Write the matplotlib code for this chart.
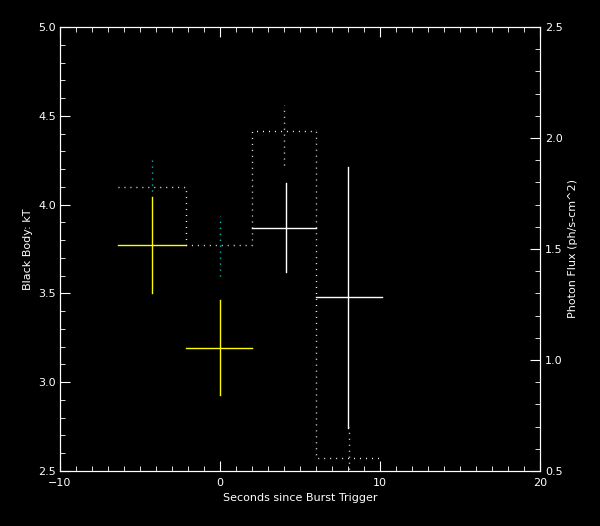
import numpy as np
import matplotlib
matplotlib.use('Agg')
import matplotlib.pyplot as plt
from matplotlib.ticker import MultipleLocator

# time bins (seconds since burst trigger)
t_start = [-6.4, -2.15, 2.0, 6.0]
t_end = [-2.15, 2.0, 6.0, 10.1]
t_mid = [-4.25, 0.0, 4.1, 8.0]

# black body temperature kT with error range
kT = [3.77, 3.19, 3.87, 3.48]
kT_low = [3.50, 2.93, 3.62, 2.74]
kT_high = [4.04, 3.46, 4.12, 4.21]
kT_colors = ['yellow', 'yellow', 'white', 'white']

# photon flux per bin with error range
flux = [1.78, 1.52, 2.03, 0.56]
flux_low = [1.76, 1.38, 1.88, 0.40]
flux_high = [1.92, 1.65, 2.15, 0.70]
flux_err_colors = ['cyan', 'cyan', 'white', 'white']
flux_err_x = [-4.25, 0.0, 4.0, 8.05]

plt.rcParams['font.family'] = 'DejaVu Sans'

fig = plt.figure(figsize=(6, 5.26), dpi=100, facecolor='black')
ax = fig.add_axes([0.1, 0.1046, 0.8, 0.8441], facecolor='black')
ax2 = ax.twinx()

dots = (0, (0.7, 3.6))

# kT crosses
for i in range(len(kT)):
    ax.plot([t_start[i], t_end[i]], [kT[i], kT[i]], color=kT_colors[i], lw=1)
    ax.plot([t_mid[i], t_mid[i]], [kT_low[i], kT_high[i]], color=kT_colors[i], lw=1)

# flux step histogram (dotted)
edges = t_start + [t_end[-1]]
step_y = flux + [flux[-1]]
ax2.step(edges, step_y, where='post', color='white', lw=1, linestyle=dots)
for i in range(len(flux)):
    ax2.plot([flux_err_x[i], flux_err_x[i]], [flux_low[i], flux_high[i]],
             color=flux_err_colors[i], lw=1, linestyle=dots)

ax.set_xlim(-10, 20)
ax.set_ylim(2.5, 5.0)
ax2.set_ylim(0.5, 2.5)

for a in (ax, ax2):
    for s in a.spines.values():
        s.set_color('white')
    a.tick_params(colors='white', which='both', direction='in', labelsize=8)
    a.tick_params(which='major', length=7)
    a.tick_params(which='minor', length=3.5)

ax.xaxis.set_major_locator(MultipleLocator(10))
ax.xaxis.set_minor_locator(MultipleLocator(1))
ax.yaxis.set_major_locator(MultipleLocator(0.5))
ax.yaxis.set_minor_locator(MultipleLocator(0.1))
ax2.yaxis.set_major_locator(MultipleLocator(0.5))
ax2.yaxis.set_minor_locator(MultipleLocator(0.1))
ax.tick_params(top=True, which='both')
ax.yaxis.set_major_formatter(matplotlib.ticker.FormatStrFormatter('%.1f'))
ax2.yaxis.set_major_formatter(matplotlib.ticker.FormatStrFormatter('%.1f'))
ax.tick_params(axis='x', pad=5)
ax.tick_params(axis='y', pad=3)

ax.set_xlabel('Seconds since Burst Trigger', color='white', fontsize=8)
ax.set_ylabel('Black Body: kT', color='white', fontsize=8)
ax2.set_ylabel('Photon Flux (ph/s-cm^2)', color='white', fontsize=8)

fig.savefig('out.png', dpi=100, facecolor='black')
